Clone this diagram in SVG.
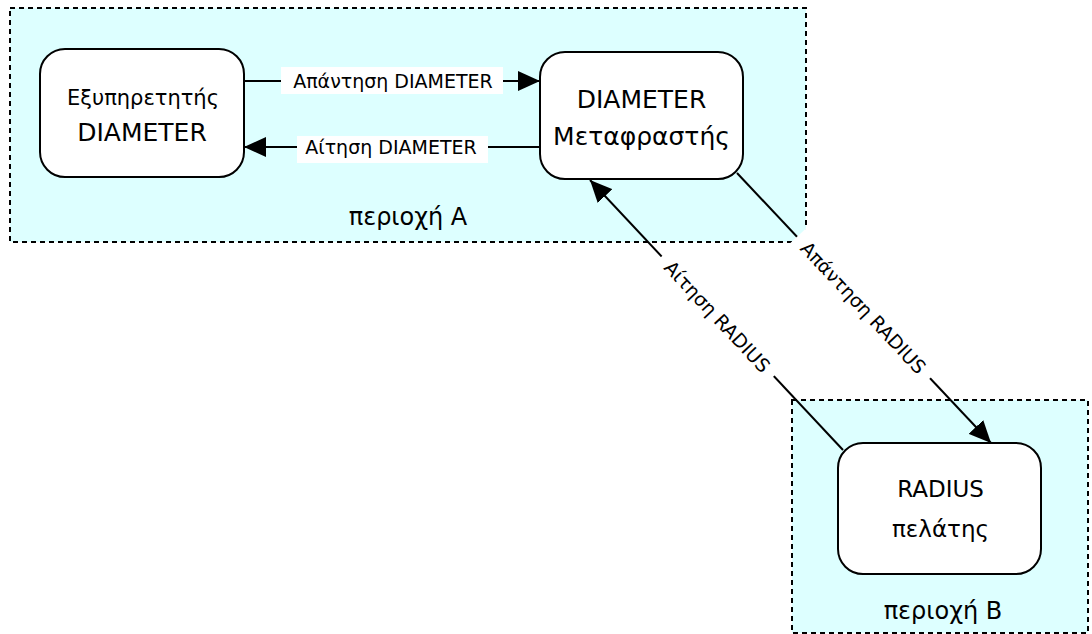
<svg xmlns="http://www.w3.org/2000/svg" width="1092" height="634" viewBox="0 0 1092 634">
<defs>
<marker id="ah" markerUnits="userSpaceOnUse" markerWidth="22" markerHeight="20" refX="22" refY="10" orient="auto">
<path d="M0,0 L22,10 L0,20 z" fill="#000"/>
</marker>
</defs>
<style>
.region{fill:#ddffff;stroke:#000;stroke-width:2;stroke-dasharray:5,4}
.node rect{fill:#fff;stroke:#000;stroke-width:2}
text{font-family:"DejaVu Sans",sans-serif;fill:#000}
.nt{font-size:25px;text-anchor:middle}
.rt{font-size:24px;text-anchor:middle}
.el{font-size:19px;text-anchor:middle}
.lbg{fill:#fff}
.edge{stroke:#000;stroke-width:2;fill:none}
</style>
<rect width="1092" height="634" fill="#fff"/>
<g id="regionA">
<rect class="region" x="10" y="8" width="796" height="234"/>
<text class="rt" x="408" y="225">περιοχή A</text>
</g>
<g id="regionB">
<rect class="region" x="792" y="400" width="296" height="233"/>
<text class="rt" x="943" y="619">περιοχή B</text>
</g>
<g id="connectors">
<g id="e1">
<line class="edge" x1="244" y1="81" x2="540" y2="81" marker-end="url(#ah)"/>
<rect class="lbg" x="281" y="67" width="222" height="27"/>
<text class="el" x="393" y="88">Απάντηση DIAMETER</text>
</g>
<g id="e2">
<line class="edge" x1="540" y1="147" x2="244" y2="147" marker-end="url(#ah)"/>
<rect class="lbg" x="297" y="136" width="191" height="27"/>
<text class="el" x="391" y="154">Αίτηση DIAMETER</text>
</g>
<g id="e3">
<line class="edge" x1="843" y1="450" x2="590" y2="180" marker-end="url(#ah)"/>
<g transform="translate(717.5,316.5) rotate(46.86)">
<rect class="lbg" x="-82" y="-13" width="164" height="26"/>
<text class="el" x="0" y="7">Αίτηση RADIUS</text>
</g>
</g>
<g id="e4">
<line class="edge" x1="737" y1="173" x2="991" y2="443" marker-end="url(#ah)"/>
<g transform="translate(863.5,307.5) rotate(46.86)">
<rect class="lbg" x="-97" y="-13" width="194" height="26"/>
<text class="el" x="0" y="7">Απάντηση RADIUS</text>
</g>
</g>
</g>
<g id="server" class="node">
<rect x="40" y="49" width="204" height="128" rx="25" ry="25"/>
<text class="nt" x="143" y="105" style="font-size:21px">Εξυπηρετητής</text>
<text class="nt" x="142" y="141">DIAMETER</text>
</g>
<g id="translator" class="node">
<rect x="540" y="52" width="203" height="127" rx="25" ry="25"/>
<text class="nt" x="641.5" y="108">DIAMETER</text>
<text class="nt" x="641.5" y="145">Μεταφραστής</text>
</g>
<g id="client" class="node">
<rect x="838" y="443" width="203" height="131" rx="25" ry="25"/>
<text class="nt" x="940.5" y="497" style="font-size:23px">RADIUS</text>
<text class="nt" x="940.5" y="537" style="font-size:23px">πελάτης</text>
</g>
</svg>
